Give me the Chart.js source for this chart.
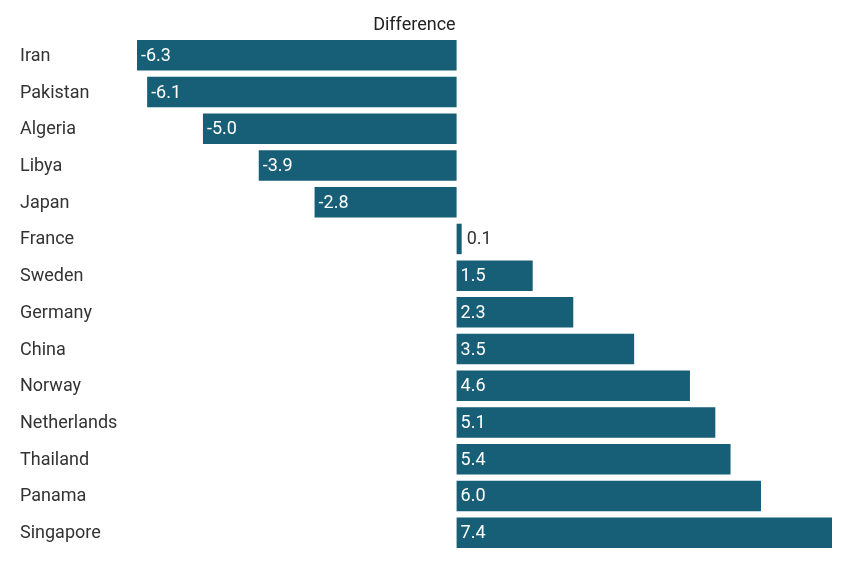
<!DOCTYPE html>
<html><head><meta charset="utf-8">
<script src="https://cdn.jsdelivr.net/npm/chart.js@4"></script>
<style>html,body{margin:0;padding:0;background:#fff}#w{width:850px;height:568px}</style>
</head><body><div id="w"><canvas id="c"></canvas></div>
<script>
const countries = ["Iran","Pakistan","Algeria","Libya","Japan","France","Sweden","Germany","China","Norway","Netherlands","Thailand","Panama","Singapore"];
const differences = [-6.3,-6.1,-5.0,-3.9,-2.8,0.1,1.5,2.3,3.5,4.6,5.1,5.4,6.0,7.4];
const seriesTitle = "Difference";
const BAR = "#175e77";
const FONT = "Roboto";

const labelPlugin = {
  id: "lbl",
  afterDatasetsDraw(chart) {
    const ctx = chart.ctx;
    const meta = chart.getDatasetMeta(0);
    const ys = chart.scales.y;
    ctx.save();
    ctx.font = "18px " + FONT;
    ctx.textBaseline = "middle";
    ctx.textAlign = "left";
    meta.data.forEach((bar, i) => {
      const v = differences[i];
      const txt = v.toFixed(1);
      const left = Math.min(bar.x, bar.base);
      const w = Math.abs(bar.x - bar.base);
      const tw = ctx.measureText(txt).width;
      if (w > tw + 8) {
        ctx.fillStyle = "#ffffff";
        ctx.fillText(txt, left + 4, bar.y + 1);
      } else {
        ctx.fillStyle = "#333333";
        ctx.fillText(txt, left + w + 5, bar.y + 1);
      }
      ctx.fillStyle = "#333333";
      ctx.fillText(countries[i], 20, ys.getPixelForValue(i) + 1);
    });
    const x0 = chart.scales.x.getPixelForValue(0);
    ctx.fillStyle = "#222222";
    ctx.textAlign = "right";
    ctx.textBaseline = "alphabetic";
    ctx.fillText(seriesTitle, x0 - 1, 30);
    ctx.restore();
  }
};

new Chart(document.getElementById("c"), {
  type: "bar",
  data: { labels: countries, datasets: [{ data: differences, backgroundColor: BAR, borderWidth: 0, categoryPercentage: 0.83, barPercentage: 1 }] },
  options: {
    indexAxis: "y",
    responsive: true, maintainAspectRatio: false, animation: false,
    layout: { padding: { left: 137, right: 18, top: 37, bottom: 17 } },
    plugins: { legend: { display: false }, tooltip: { enabled: false } },
    scales: {
      x: { min: -6.3, max: 7.4, display: false, grid: { display: false } },
      y: { display: false, grid: { display: false } }
    }
  },
  plugins: [labelPlugin]
});
</script></body></html>
